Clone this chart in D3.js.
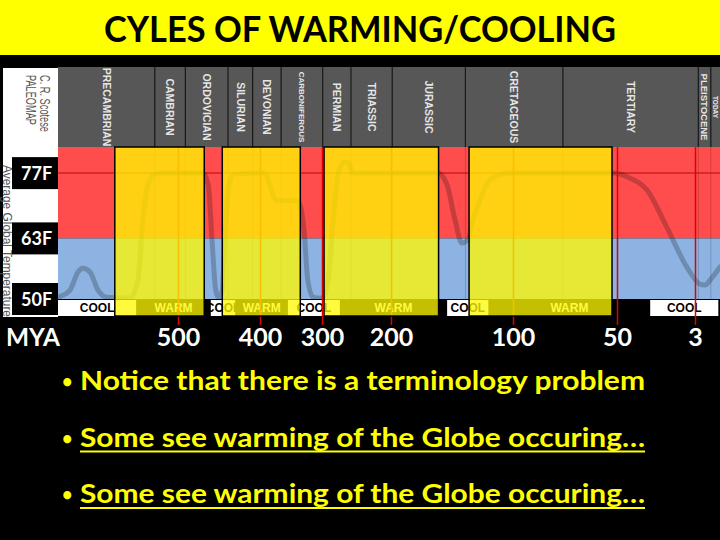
<!DOCTYPE html>
<html>
<head>
<meta charset="utf-8">
<script src="https://d3js.org/d3.v7.min.js"></script>
<style>
  body { margin: 0; background: #000; }
  svg { display: block; }
  .calibri { font-family: Lato, "Open Sans", sans-serif; font-weight: bold; }
  .narrow { font-family: "Liberation Sans Narrow", "Liberation Sans", Arial, sans-serif; }
</style>
</head>
<body>
<svg id="slide" width="720" height="540"></svg>
<script>
// ---- data ----
const titleText = 'CYLES OF WARMING/COOLING';

// geologic periods, boundaries in MYA (as they sit on the chart's own time axis)
const periodNames = ['PRECAMBRIAN', 'CAMBRIAN', 'ORDOVICIAN', 'SILURIAN', 'DEVONIAN', 'CARBONIFEROUS',
                     'PERMIAN', 'TRIASSIC', 'JURASSIC', 'CRETACEOUS', 'TERTIARY', 'PLEISTOCENE', 'TODAY'];
const periodBounds = [650, 529, 491, 439, 409, 366, 299, 258, 199, 139, 76, 2.6, 1.1, 0];

// MYA tick marks written under the chart
const tickMya = [500, 400, 300, 200, 100, 50, 3];

// temperature levels (F)
const tempTicks = [77, 63, 50];
const tempLabels = ['77F', '63F', '50F'];
const bandHigh = [82.6, 63];
const bandLow = [63, 50];

// COOL / WARM strip at the bottom of the chart
const stripNames = ['COOL', 'WARM', 'COOL', 'WARM', 'COOL', 'WARM', 'COOL', 'WARM', 'COOL'];
const stripBounds = [650, 552, 460, 430, 355, 274, 154, 120, 30, 0.2];

// yellow "warm" overlays
const warmFrom = [579, 446, 297, 136];
const warmTo = [468, 335, 161, 52.4];

// average global temperature curve
const curveMya = [650, 635, 625, 619, 610, 600, 589, 560, 550, 544, 537.5, 529, 516,
                  469.5, 463, 458.5, 454, 450, 446, 443, 438, 432,
                  392, 384, 374, 339, 329, 323, 314.5,
                  300, 291, 284, 277, 268, 261, 255,
                  161.5, 154, 147.5, 142, 137, 133, 127, 119, 102,
                  52.4, 42, 32, 20, 8, 2.4, 1.8, 1.0, 0];
const curveTemp = [50.4, 51.9, 55.8, 56.6, 55.8, 51.9, 50.4, 50.2, 54.1, 66.9, 74.4, 76.8, 77,
                   77, 74.4, 62.6, 51.9, 50.2, 51.9, 62.6, 74.4, 76.8,
                   77, 74.4, 71.2, 71.0, 64.8, 54.1, 50.4,
                   50.2, 54.1, 66.9, 76.6, 79.4, 79.1, 77,
                   77, 74.4, 66.9, 62, 62.6, 66.9, 71.2, 75.5, 77,
                   77, 75.9, 73.4, 65.4, 56.9, 53.2, 53, 54.5, 56.9];

const bullets = ['Notice that there is a terminology problem',
                 'Some see warming of the Globe occuring\u2026',
                 'Some see warming of the Globe occuring\u2026'];
const bulletUnderline = [false, true, true];

// ---- layout ----
const svg = d3.select('#slide');
const width = +svg.attr('width');
const height = +svg.attr('height');
const chart = {left: 58, right: 720, headTop: 67, top: 147, bottom: 299, stripBottom: 316};

const x = d3.scaleLinear()
    .domain([650, ...tickMya, 0])
    .range([58, 178, 260, 322, 391, 513, 617, 695, 720]);
const y = d3.scaleLinear().domain([50, 82.6]).range([chart.bottom, chart.top]);

svg.append('rect').attr('width', width).attr('height', height).attr('fill', '#000');

// title bar
svg.append('rect').attr('width', width).attr('height', 55).attr('fill', '#FFFF00');
svg.append('text').attr('class', 'calibri')
    .attr('x', width / 2).attr('y', 42)
    .attr('text-anchor', 'middle')
    .attr('textLength', 512).attr('lengthAdjust', 'spacingAndGlyphs')
    .style('font-size', '37px').attr('fill', '#000')
    .text(titleText);

// header with period names
const periods = periodNames.map((name, i) => ({name, from: periodBounds[i], to: periodBounds[i + 1]}));
const head = svg.append('g');
head.selectAll('rect').data(periods).join('rect')
    .attr('x', d => x(d.from)).attr('width', d => x(d.to) - x(d.from))
    .attr('y', chart.headTop).attr('height', chart.top - chart.headTop)
    .attr('fill', '#575757');
head.selectAll('line').data(periodBounds.slice(1, -1)).join('line')
    .attr('x1', d => x(d)).attr('x2', d => x(d))
    .attr('y1', chart.headTop).attr('y2', chart.top)
    .attr('stroke', '#1a1a1a').attr('stroke-width', 1.2);
const labelSize = n => n === 'TODAY' ? 6.5 : n === 'CARBONIFEROUS' ? 8 : n === 'PLEISTOCENE' ? 9.5 : 10.5;
head.selectAll('text').data(periods).join('text')
    .attr('class', 'narrow')
    .attr('transform', d => `translate(${(x(d.from) + x(d.to)) / 2},107) rotate(90)`)
    .attr('text-anchor', 'middle').attr('dy', '0.35em')
    .style('font-size', d => labelSize(d.name) + 'px').style('font-weight', 'bold')
    .attr('fill', '#e6e6e6')
    .text(d => d.name);

// temperature bands
const plot = svg.append('g');
plot.selectAll('rect.band').data(bandHigh).join('rect').attr('class', 'band')
    .attr('x', chart.left).attr('width', chart.right - chart.left)
    .attr('y', d => y(d)).attr('height', (d, i) => y(bandLow[i]) - y(d))
    .attr('fill', (d, i) => i === 0 ? '#FF4D4D' : '#8DB3E2');

// faint period boundaries and the 77F line
plot.selectAll('line.pb').data(periodBounds.slice(1, -1)).join('line').attr('class', 'pb')
    .attr('x1', d => x(d)).attr('x2', d => x(d))
    .attr('y1', chart.top).attr('y2', chart.bottom)
    .attr('stroke', '#000').attr('stroke-opacity', 0.18).attr('stroke-width', 1);
plot.append('line')
    .attr('x1', chart.left).attr('x2', chart.right)
    .attr('y1', y(tempTicks[0])).attr('y2', y(tempTicks[0]))
    .attr('stroke', '#B00000').attr('stroke-opacity', 0.6).attr('stroke-width', 1.5);

// temperature curve
svg.append('clipPath').attr('id', 'plotClip').append('rect')
    .attr('x', chart.left).attr('y', chart.top)
    .attr('width', chart.right - chart.left).attr('height', chart.bottom - chart.top);
const line = d3.line()
    .x(d => x(d[0])).y(d => y(d[1]))
    .curve(d3.curveMonotoneX);
plot.append('path')
    .datum(curveMya.map((m, i) => [m, curveTemp[i]]))
    .attr('clip-path', 'url(#plotClip)')
    .attr('d', line)
    .attr('fill', 'none').attr('stroke', '#000').attr('stroke-opacity', 0.22)
    .attr('stroke-width', 5).attr('stroke-linecap', 'round');

// COOL / WARM strip
const strip = stripNames.map((name, i) => ({name, from: stripBounds[i], to: stripBounds[i + 1]}));
const sg = svg.append('g');
sg.selectAll('rect').data(strip).join('rect')
    .attr('x', d => x(d.from)).attr('width', d => x(d.to) - x(d.from))
    .attr('y', chart.bottom + 1).attr('height', chart.stripBottom - chart.bottom - 1)
    .attr('fill', d => d.name === 'COOL' ? '#fff' : '#000');
sg.selectAll('text').data(strip).join('text')
    .attr('x', d => (x(d.from) + x(d.to)) / 2).attr('y', chart.stripBottom - 4)
    .attr('text-anchor', 'middle')
    .style('font-family', '"Liberation Sans", Arial, sans-serif')
    .style('font-size', '12px').style('font-weight', 'bold')
    .attr('fill', d => d.name === 'COOL' ? '#000' : '#fff')
    .text(d => d.name);

// MYA ticks
const axis = d3.axisBottom(x).tickValues(tickMya)
    .tickSizeInner(-(325 - chart.top)).tickSizeOuter(0)
    .tickFormat(d3.format('d'));
const gAx = svg.append('g').attr('transform', 'translate(0,325)').call(axis);
gAx.select('.domain').remove();
gAx.selectAll('line').attr('stroke', '#E00000').attr('stroke-width', 1.5);
gAx.selectAll('text')
    .attr('class', 'calibri')
    .attr('y', 21).attr('dy', 0)
    .attr('fill', '#fff')
    .style('font-size', '25px');

svg.append('text').attr('class', 'calibri')
    .attr('x', 6).attr('y', 346)
    .attr('textLength', 54).attr('lengthAdjust', 'spacingAndGlyphs')
    .style('font-size', '25px').attr('fill', '#fff')
    .text('MYA');

// warm overlays
svg.append('g').selectAll('rect').data(warmFrom).join('rect')
    .attr('x', d => x(d)).attr('width', (d, i) => x(warmTo[i]) - x(d))
    .attr('y', chart.top).attr('height', chart.stripBottom - chart.top)
    .attr('fill', '#FFF800').attr('fill-opacity', 0.77)
    .attr('stroke', '#000').attr('stroke-width', 1.5);

// left panel
const lp = svg.append('g');
lp.append('rect').attr('x', 3).attr('y', 68).attr('width', chart.left - 3).attr('height', 317 - 68)
    .attr('fill', '#fff');
lp.append('text').attr('class', 'narrow')
    .attr('transform', 'translate(45,75) rotate(90)').attr('dy', '0.35em')
    .attr('textLength', 57).attr('lengthAdjust', 'spacingAndGlyphs')
    .style('font-size', '14px').attr('fill', '#555')
    .text('C. R. Scotese');
lp.append('text').attr('class', 'narrow')
    .attr('transform', 'translate(31,75) rotate(90)').attr('dy', '0.35em')
    .attr('textLength', 50).attr('lengthAdjust', 'spacingAndGlyphs')
    .style('font-size', '14px').attr('fill', '#555')
    .text('PALEOMAP');
lp.append('text').attr('class', 'narrow')
    .attr('transform', 'translate(8,165) rotate(90)').attr('dy', '0.35em')
    .attr('textLength', 152).attr('lengthAdjust', 'spacingAndGlyphs')
    .style('font-size', '13px').attr('fill', '#555')
    .text('Average Global Temperature');
lp.selectAll('rect.tb').data(tempTicks).join('rect').attr('class', 'tb')
    .attr('x', 12).attr('width', chart.left - 12)
    .attr('y', d => y(d) - 16).attr('height', 32)
    .attr('fill', '#000');
lp.selectAll('text.tl').data(tempTicks).join('text').attr('class', 'tl calibri')
    .attr('x', 21).attr('y', d => y(d) + 7)
    .style('font-size', '18px').attr('fill', '#fff')
    .text((d, i) => tempLabels[i]);

// bullet text
const bg = svg.append('g');
bullets.forEach((t, i) => {
    const by = 390 + i * 56.5;
    bg.append('text').attr('class', 'calibri')
        .attr('x', 62).attr('y', by - 2)
        .style('font-size', '18px').attr('fill', '#FFFF00')
        .text('\u2022');
    bg.append('text').attr('class', 'calibri')
        .attr('x', 80).attr('y', by)
        .attr('textLength', 565).attr('lengthAdjust', 'spacingAndGlyphs')
        .style('font-size', '27px').attr('fill', '#FFFF00')
        .text(t);
    if (bulletUnderline[i]) {
        bg.append('line')
            .attr('x1', 80).attr('x2', 645)
            .attr('y1', by + 5).attr('y2', by + 5)
            .attr('stroke', '#FFFF00').attr('stroke-width', 2);
    }
});
</script>
</body>
</html>
